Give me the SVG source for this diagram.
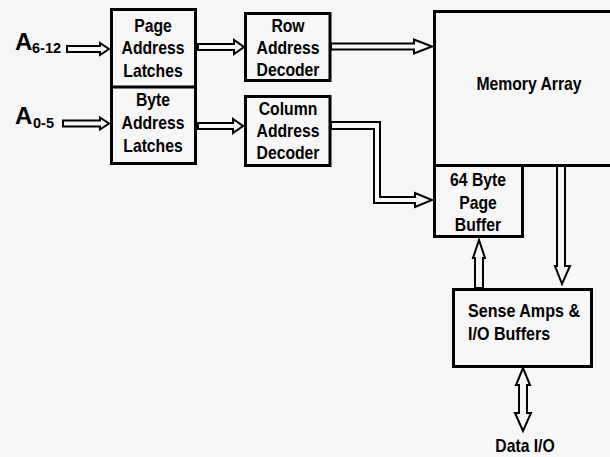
<svg xmlns="http://www.w3.org/2000/svg" width="610" height="457" viewBox="0 0 610 457">
<style>
.box{fill:none;stroke:#000;stroke-width:3}
.arr{fill:#f7f7f7;stroke:#000;stroke-width:2;stroke-linejoin:miter}
text{font-family:"Liberation Sans",Arial,sans-serif;font-weight:bold;font-size:17.5px;fill:#000}
.c{text-anchor:middle}
</style>
<rect width="610" height="457" fill="#f7f7f7"/>
<g id="connectors">
<polygon class="arr" points="67,46 100,46 100,43 109,49 100,55 100,52 67,52"/>
<polygon class="arr" points="63,120.5 100,120.5 100,117.5 109,123.5 100,129.5 100,126.5 63,126.5"/>
<polygon class="arr" points="198,44 234,44 234,40 244,47 234,54 234,50 198,50"/>
<polygon class="arr" points="198,123 233,123 233,119 243,126 233,133 233,129 198,129"/>
<polygon class="arr" points="331,43.5 414,43.5 414,39.5 432,46.5 414,53.5 414,49.5 331,49.5"/>
<polygon class="arr" points="331,122 380,122 380,197 415,197 415,193 432,200 415,207 415,203 374,203 374,129 331,129"/>
<polygon class="arr" points="557,166 565,166 565,266 570,266 562,284 555,266 557,266"/>
<polygon class="arr" points="475,288 475,258 473,258 479,240 485,258 483,258 483,288"/>
<polygon class="arr" points="523,368 530,385 527,385 527,413 531,413 523,431 515,413 519,413 519,385 516,385"/>
</g>
<g id="labels">
<text x="15" y="50" style="font-size:24px">A</text>
<text x="32" y="53" style="font-size:14.5px">6-12</text>
<text x="15" y="124" style="font-size:24px">A</text>
<text x="33" y="128" style="font-size:14.5px">0-5</text>
</g>
<g id="latches">
<rect class="box" x="111.5" y="9.5" width="84" height="154"/>
<line x1="111.5" y1="87" x2="195.5" y2="87" stroke="#000" stroke-width="3"/>
<g transform="translate(153 0) scale(0.9 1)">
<text class="c" x="0" y="32">Page</text>
<text class="c" x="0" y="54">Address</text>
<text class="c" x="0" y="77">Latches</text>
<text class="c" x="0" y="106">Byte</text>
<text class="c" x="0" y="129">Address</text>
<text class="c" x="0" y="152">Latches</text>
</g>
</g>
<g id="row-decoder">
<rect class="box" x="245.5" y="13.5" width="84.5" height="67"/>
<g transform="translate(288 0) scale(0.9 1)">
<text class="c" x="0" y="32">Row</text>
<text class="c" x="0" y="54">Address</text>
<text class="c" x="0" y="76">Decoder</text>
</g>
</g>
<g id="column-decoder">
<rect class="box" x="245.5" y="96.5" width="84.5" height="69"/>
<g transform="translate(288 0) scale(0.9 1)">
<text class="c" x="0" y="115">Column</text>
<text class="c" x="0" y="137">Address</text>
<text class="c" x="0" y="159">Decoder</text>
</g>
</g>
<g id="memory-array">
<rect class="box" x="434.5" y="11.5" width="180" height="154"/>
<g transform="translate(529 0) scale(0.9 1)">
<text class="c" x="0" y="90">Memory Array</text>
</g>
</g>
<g id="page-buffer">
<rect class="box" x="434.5" y="165.5" width="88" height="71"/>
<g transform="translate(478 0) scale(0.9 1)">
<text class="c" x="0" y="186">64 Byte</text>
<text class="c" x="0" y="209">Page</text>
<text class="c" x="0" y="231">Buffer</text>
</g>
</g>
<g id="sense-amps">
<rect class="box" x="453.5" y="289.5" width="138" height="77"/>
<g transform="translate(468 0) scale(0.92 1)">
<text x="0" y="317">Sense Amps &amp;</text>
<text x="0" y="340">I/O Buffers</text>
</g>
</g>
<g id="data-io">
<g transform="translate(525 0) scale(0.9 1)">
<text class="c" x="0" y="452">Data I/O</text>
</g>
</g>
</svg>
